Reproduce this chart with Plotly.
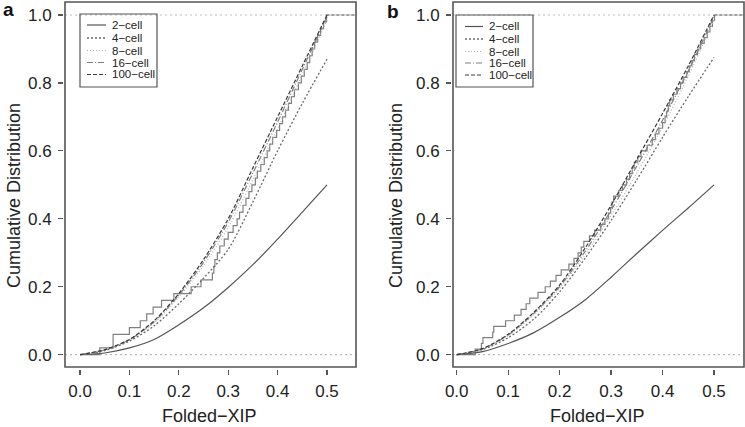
import plotly.graph_objects as go

W, H = 745, 427
def fx(p): return p / W
def fy(p): return 1 - p / H

# ---------------- data ----------------
grid_x = [0.0, 0.05, 0.10, 0.15, 0.20, 0.25, 0.30, 0.35, 0.40, 0.45, 0.50]

a_2cell = [0, 0.005, 0.020, 0.045, 0.088, 0.138, 0.198, 0.265, 0.340, 0.420, 0.500]
a_4cell = [0, 0.012, 0.040, 0.085, 0.150, 0.225, 0.310, 0.450, 0.600, 0.740, 0.870]
a_8cell = [0, 0.013, 0.043, 0.094, 0.170, 0.262, 0.375, 0.515, 0.665, 0.825, 0.985]
a_16cell = [0, 0.014, 0.044, 0.097, 0.175, 0.272, 0.390, 0.535, 0.685, 0.840, 0.995]
a_100cell = [0, 0.015, 0.045, 0.100, 0.180, 0.280, 0.400, 0.550, 0.700, 0.850, 1.000]

b_2cell = [0, 0.009, 0.033, 0.065, 0.110, 0.162, 0.228, 0.298, 0.366, 0.432, 0.500]
b_4cell = [0, 0.015, 0.050, 0.105, 0.185, 0.285, 0.395, 0.515, 0.640, 0.760, 0.875]
b_8cell = [0, 0.016, 0.056, 0.118, 0.195, 0.295, 0.410, 0.535, 0.670, 0.820, 0.985]
b_16cell = [0, 0.017, 0.058, 0.122, 0.200, 0.305, 0.425, 0.555, 0.690, 0.835, 0.995]
b_100cell = [0, 0.018, 0.060, 0.125, 0.205, 0.315, 0.440, 0.575, 0.710, 0.850, 1.000]

# observed folded-XIP values (sorted) -> empirical CDF steps
a_obs = [0.040, 0.067, 0.067, 0.100, 0.122, 0.135, 0.148, 0.165, 0.190, 0.225,
         0.245, 0.268, 0.271, 0.273, 0.278, 0.283, 0.292, 0.300, 0.310, 0.318,
         0.323, 0.330, 0.336, 0.342, 0.348, 0.355, 0.359, 0.366, 0.373, 0.379,
         0.384, 0.390, 0.398, 0.404, 0.410, 0.416, 0.422, 0.428, 0.434, 0.442,
         0.448, 0.454, 0.460, 0.465, 0.470, 0.475, 0.481, 0.487, 0.493, 0.499]
b_obs = [0.036, 0.048, 0.051, 0.070, 0.072, 0.095, 0.112, 0.125, 0.135, 0.142,
         0.158, 0.172, 0.182, 0.193, 0.203, 0.218, 0.228, 0.236, 0.242, 0.247,
         0.258, 0.268, 0.280, 0.288, 0.295, 0.299, 0.302, 0.305, 0.315, 0.322,
         0.330, 0.336, 0.341, 0.345, 0.352, 0.358, 0.370, 0.380, 0.386, 0.393,
         0.400, 0.405, 0.408, 0.411, 0.414, 0.421, 0.428, 0.435, 0.440, 0.447,
         0.452, 0.457, 0.462, 0.468, 0.474, 0.481, 0.487, 0.492, 0.497, 0.501]

series_names = ["2−cell", "4−cell", "8−cell", "16−cell", "100−cell"]
x_ticks = [0.0, 0.1, 0.2, 0.3, 0.4, 0.5]
x_ticktext = ["0.0", "0.1", "0.2", "0.3", "0.4", "0.5"]
y_ticks = [0.0, 0.2, 0.4, 0.6, 0.8, 1.0]
y_ticktext = ["0.0", "0.2", "0.4", "0.6", "0.8", "1.0"]

# ---------------- styles ----------------
styles = [
    dict(color="#555555", width=1.2, dash="solid"),
    dict(color="#6a6a6a", width=1.3, dash="2px,2px"),
    dict(color="#b5b5b5", width=1.2, dash="1px,2px"),
    dict(color="#808080", width=1.2, dash="6px,2px,1px,2px"),
    dict(color="#3a3a3a", width=1.2, dash="4px,2px"),
]
FONT = "Liberation Sans, Arial, Helvetica, sans-serif"
TXT = "#222222"

panels = [
    dict(xa="x", ya="y", left=65, right=356, xr=[-0.0304, 0.5587],
         curves=[a_2cell, a_4cell, a_8cell, a_16cell, a_100cell], obs=a_obs,
         leg=dict(box=(80, 14, 157, 87), s0=87, s1=106, tx=110, rows=[25, 38, 50.5, 62.5, 74.5]),
         ytitle_x=14, xtitle_x=209, letter="a", letter_xy=(8, 9)),
    dict(xa="x2", ya="y2", left=453, right=744, xr=[-0.0072, 0.5583],
         curves=[b_2cell, b_4cell, b_8cell, b_16cell, b_100cell], obs=b_obs,
         leg=dict(box=(456, 15, 533, 87), s0=465, s1=483, tx=487, rows=[26.5, 39, 51.5, 63, 75]),
         ytitle_x=396, xtitle_x=597, letter="b", letter_xy=(393, 11)),
]

YR = [-0.0362, 1.0383]
TOP, BOT = 2, 367

fig = go.Figure()
shapes = []
annotations = []
layout_axes = {}

for i, p in enumerate(panels):
    n = len(p["obs"])
    sx = [0.0] + p["obs"]
    sy = [0.0] + [(k + 1) / n for k in range(n)]
    fig.add_trace(go.Scatter(x=sx, y=sy, mode="lines", line=dict(color="#808080", width=1.2, shape="hv"),
                             xaxis=p["xa"], yaxis=p["ya"], showlegend=False, hoverinfo="skip"))
    fig.add_trace(go.Scatter(x=[p["obs"][-1], p["xr"][1]], y=[1.0, 1.0], mode="lines",
                             line=dict(color="#444444", width=1.2, dash="3px,2px"),
                             xaxis=p["xa"], yaxis=p["ya"], showlegend=False, hoverinfo="skip"))
    for name, vals, st in zip(series_names, p["curves"], styles):
        fig.add_trace(go.Scatter(x=grid_x, y=vals, mode="lines", name=name,
                                 line=dict(color=st["color"], width=st["width"], dash=st["dash"],
                                           shape="spline", smoothing=0.8),
                                 xaxis=p["xa"], yaxis=p["ya"], showlegend=False, hoverinfo="skip"))

    sfx = "" if i == 0 else "2"
    layout_axes["xaxis" + sfx] = dict(
        domain=[fx(p["left"]), fx(p["right"])], range=p["xr"], anchor="free", position=fy(BOT + 2),
        tickvals=x_ticks, ticktext=x_ticktext, ticks="outside", ticklen=5, tickwidth=1.2,
        tickcolor="#555555", showline=False, showgrid=False, zeroline=False, automargin=False,
        fixedrange=True, tickfont=dict(family=FONT, size=17, color=TXT), ticklabelstandoff=2)
    layout_axes["yaxis" + sfx] = dict(
        domain=[fy(BOT), fy(TOP)], range=YR, anchor="free", position=fx(p["left"] - 2),
        tickvals=y_ticks, ticktext=y_ticktext, ticks="outside", ticklen=5, tickwidth=1.2,
        tickcolor="#555555", showline=False, showgrid=False, zeroline=False, automargin=False,
        fixedrange=True, tickfont=dict(family=FONT, size=17, color=TXT), ticklabelstandoff=3)

    xa_ref = p["xa"] + " domain"
    ya_ref = p["ya"] + " domain"
    for yv in (0.0, 1.0):
        shapes.append(dict(type="line", xref=xa_ref, yref=p["ya"], x0=0, x1=1, y0=yv, y1=yv,
                           line=dict(color="#bdbdbd", width=1.2, dash="2px,3px"), layer="below"))
    shapes.append(dict(type="rect", xref=xa_ref, yref=ya_ref, x0=0, x1=1, y0=0, y1=1,
                       line=dict(color="#555555", width=1.6)))

    lg = p["leg"]
    bx0, by0, bx1, by1 = lg["box"]
    shapes.append(dict(type="rect", xref="paper", yref="paper", x0=fx(bx0), x1=fx(bx1),
                       y0=fy(by1), y1=fy(by0), line=dict(color="#555555", width=1.2),
                       fillcolor="rgba(255,255,255,0)"))
    for name, st, ry in zip(series_names, styles, lg["rows"]):
        shapes.append(dict(type="line", xref="paper", yref="paper", x0=fx(lg["s0"]), x1=fx(lg["s1"]),
                           y0=fy(ry), y1=fy(ry), line=dict(color=st["color"], width=st["width"], dash=st["dash"])))
        annotations.append(dict(text=name, xref="paper", yref="paper", x=fx(lg["tx"]), y=fy(ry),
                                xanchor="left", yanchor="middle", showarrow=False,
                                font=dict(family=FONT, size=11.5, color=TXT)))

    annotations.append(dict(text="Cumulative Distribution", xref="paper", yref="paper",
                            x=fx(p["ytitle_x"]), y=fy(196), textangle=-90, xanchor="center",
                            yanchor="middle", showarrow=False, font=dict(family=FONT, size=18, color=TXT)))
    annotations.append(dict(text="Folded−XIP", xref="paper", yref="paper",
                            x=fx(p["xtitle_x"]), y=fy(416), xanchor="center", yanchor="middle",
                            showarrow=False, font=dict(family=FONT, size=18, color=TXT)))
    lx, ly = p["letter_xy"]
    annotations.append(dict(text="<b>" + p["letter"] + "</b>", xref="paper", yref="paper",
                            x=fx(lx), y=fy(ly), xanchor="center", yanchor="middle", showarrow=False,
                            font=dict(family=FONT, size=19, color="#111111")))

fig.update_layout(width=W, height=H, margin=dict(l=0, r=0, t=0, b=0, pad=0, autoexpand=False),
                  paper_bgcolor="white", plot_bgcolor="white", showlegend=False,
                  hovermode=False, shapes=shapes, annotations=annotations, **layout_axes)

fig.write_html("out.html", config={"displayModeBar": False, "staticPlot": True},
               post_script="document.body.style.margin='0px';document.body.style.overflow='hidden';")
